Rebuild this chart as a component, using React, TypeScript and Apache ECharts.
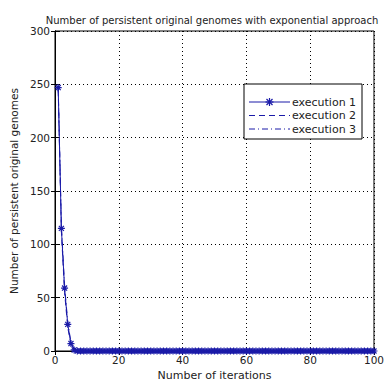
import React, { useEffect, useRef } from "react";
import * as echarts from "echarts";

const iterations: number[] = Array.from({ length: 100 }, (_, i) => i + 1);
const exec1Head = [247, 115, 59, 25, 7, 1];
const exec2Head = [245, 112, 55, 22, 6, 1];
const exec3Head = [248, 118, 61, 27, 8, 2];
const tail = (head: number[]) => iterations.map((_, i) => (i < head.length ? head[i] : 0));
const execution1 = tail(exec1Head);
const execution2 = tail(exec2Head);
const execution3 = tail(exec3Head);
const seriesNames = ["execution 1", "execution 2", "execution 3"];

const BLUE = "#1a1aa8";
const FONT = "DejaVu Sans";
const STAR = "path://M0,-5L0,5M-5,0L5,0M-3.6,-3.6L3.6,3.6M-3.6,3.6L3.6,-3.6";

export default function App() {
  const ref = useRef<HTMLDivElement>(null);
  useEffect(() => {
    const chart = echarts.init(ref.current!, null, { renderer: "svg" });
    const mk = (vals: number[]) => iterations.map((x, i) => [x, vals[i]]);
    const axisCommon = {
      axisLine: { show: true, lineStyle: { color: "#000", width: 1 } },
      axisTick: { show: true, inside: true, length: 4, lineStyle: { color: "#000" } },
      axisLabel: { color: "#222", fontFamily: FONT, fontSize: 10.5 },
    };
    chart.setOption({
      animation: false,
      backgroundColor: "#fff",
      title: {
        text: "Number of persistent original genomes with exponential approach",
        left: 207,
        textAlign: "center",
        top: 10,
        textStyle: { fontFamily: FONT, fontSize: 10, fontWeight: "normal", color: "#222" },
      },
      grid: { left: 51, right: 13, top: 31, bottom: 32, show: true, borderColor: "#000", borderWidth: 1 },
      xAxis: [
        {
          type: "value", min: 0, max: 100, interval: 20,
          name: "Number of iterations", nameLocation: "middle", nameGap: 19,
          nameTextStyle: { fontFamily: FONT, fontSize: 11, color: "#222" },
          ...axisCommon,
          axisLabel: { ...axisCommon.axisLabel, margin: 3 },
          splitLine: { show: true, lineStyle: { color: "#000", type: [1, 3], width: 1 } },
        },
        {
          type: "value", min: 0, max: 100, interval: 20, position: "top",
          ...axisCommon, axisLabel: { show: false }, splitLine: { show: false },
        },
      ],
      yAxis: [
        {
          type: "value", min: 0, max: 300, interval: 50,
          name: "Number of persistent original genomes", nameLocation: "middle", nameGap: 36,
          nameTextStyle: { fontFamily: FONT, fontSize: 10.5, color: "#222" },
          ...axisCommon,
          axisLabel: { ...axisCommon.axisLabel, margin: 5 },
          splitLine: { show: true, lineStyle: { color: "#000", type: [1, 3], width: 1 } },
        },
        {
          type: "value", min: 0, max: 300, interval: 50, position: "right",
          ...axisCommon, axisLabel: { show: false }, splitLine: { show: false },
        },
      ],
      series: [
        {
          name: seriesNames[0], type: "line", data: mk(execution1),
          symbol: STAR, symbolSize: 7, showSymbol: true,
          lineStyle: { color: BLUE, width: 1 },
          itemStyle: { color: "none", borderColor: BLUE, borderWidth: 1.2 },
          z: 3,
        },
        {
          name: seriesNames[1], type: "line", data: mk(execution2), symbol: "none",
          lineStyle: { color: BLUE, width: 1, type: [6, 4] }, z: 2,
        },
        {
          name: seriesNames[2], type: "line", data: mk(execution3), symbol: "none",
          lineStyle: { color: BLUE, width: 1, type: [6, 3, 1, 3] }, z: 2,
        },
      ],
      graphic: [
        {
          type: "rect", shape: { x: 244, y: 84, width: 118, height: 55 },
          style: { fill: "#fff", stroke: "#000", lineWidth: 1 }, z: 10,
        },
        ...seriesNames.flatMap((name, i) => {
          const y = 102 + i * 13.5;
          const dash = i === 0 ? null : i === 1 ? [6, 4] : [6, 3, 1, 3];
          const els: any[] = [
            {
              type: "line", shape: { x1: 249, y1: y, x2: 290, y2: y },
              style: { stroke: BLUE, lineWidth: 1, lineDash: dash }, z: 11,
            },
            {
              type: "text", x: 292, y, z: 11,
              style: { text: name, fontFamily: FONT, fontSize: 11, fill: "#222", verticalAlign: "middle" },
            },
          ];
          if (i === 0) {
            const segs = [
              [0, -4, 0, 4], [-4, 0, 4, 0], [-3, -3, 3, 3], [-3, 3, 3, -3],
            ];
            segs.forEach(([a, b, c, d]) => {
              els.push({
                type: "line", z: 12,
                shape: { x1: 269.5 + a, y1: y + b, x2: 269.5 + c, y2: y + d },
                style: { stroke: BLUE, lineWidth: 1.2 },
              });
            });
          }
          return els;
        }),
      ],
    });
    return () => chart.dispose();
  }, []);
  return <div ref={ref} style={{ width: 387, height: 386, position: "absolute", left: 0, top: 0 }} />;
}
